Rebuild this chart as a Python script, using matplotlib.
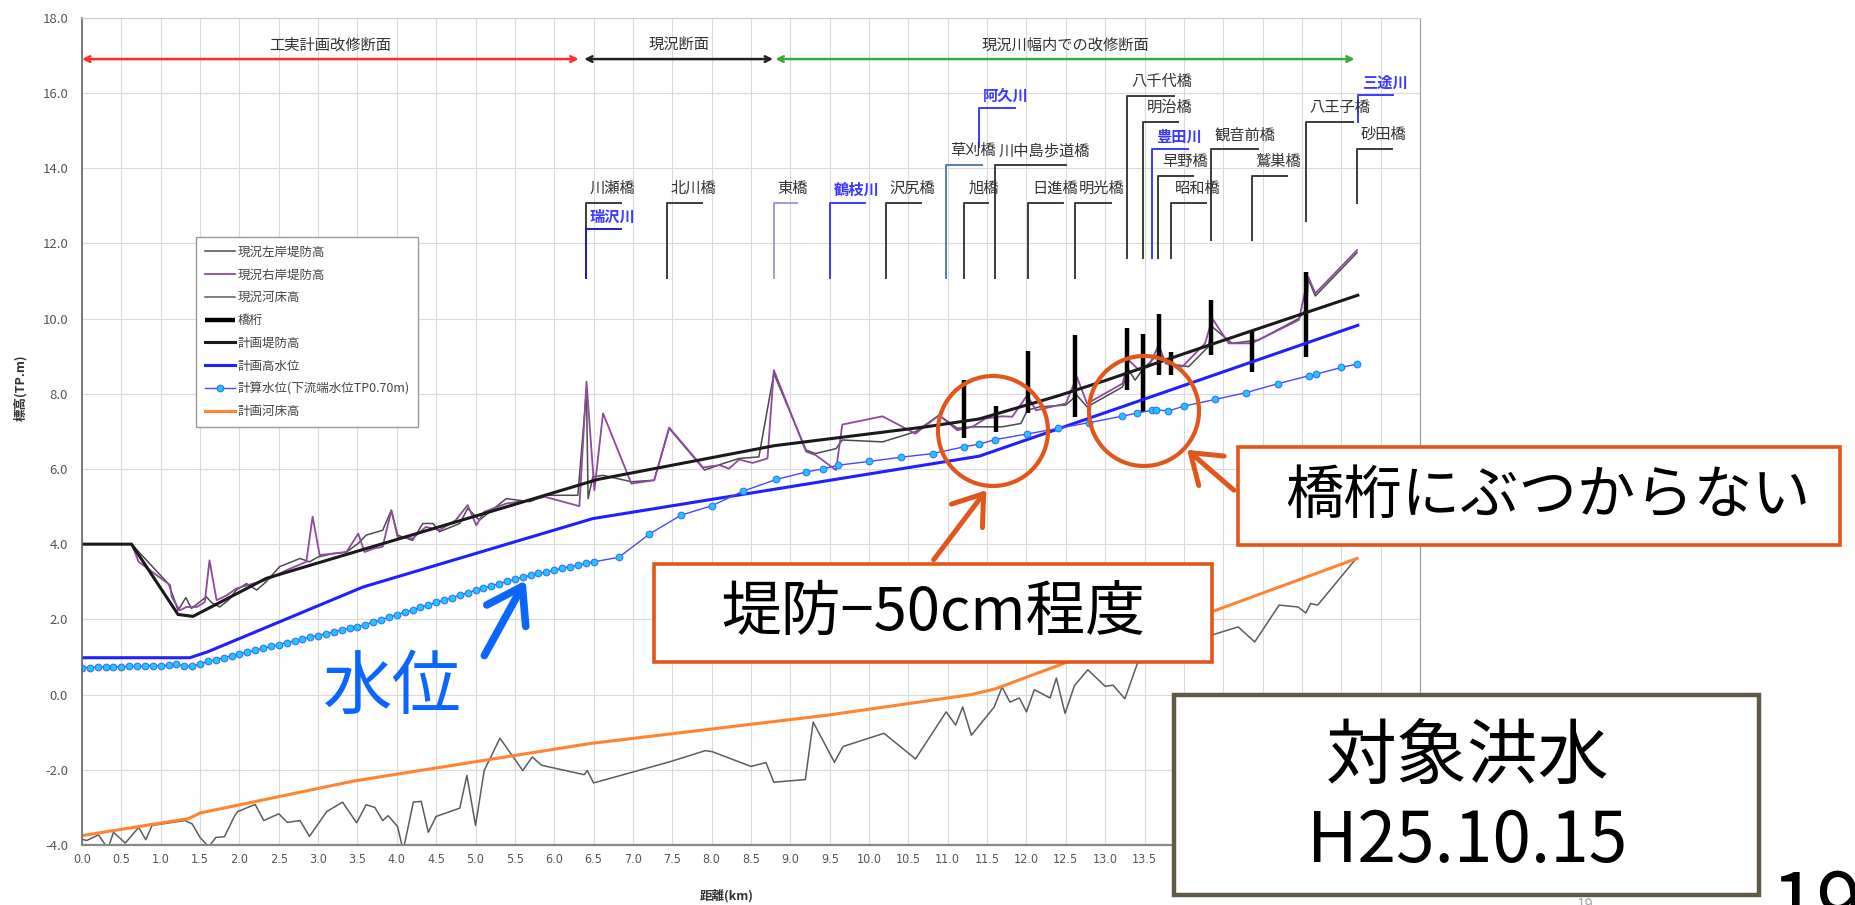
import matplotlib
matplotlib.use("Agg")
import matplotlib.pyplot as plt
from matplotlib.patches import Rectangle, Ellipse, FancyArrowPatch
from matplotlib.transforms import IdentityTransform
from matplotlib.ticker import MultipleLocator, FormatStrFormatter, FuncFormatter

plt.rcParams['font.family'] = ['Noto Sans CJK JP', 'DejaVu Sans']

W, H = 1855, 905

# ---- data (km, TP.m) ----
lb_km = [0.00, 0.63, 1.10, 1.16, 1.22, 1.32, 1.39, 1.58, 1.65, 1.75, 1.86, 1.96, 2.09, 2.22, 2.34,
         2.51, 2.77, 2.89, 3.00, 3.19, 3.36, 3.51, 3.61, 3.82, 3.93, 4.01, 4.20, 4.33, 4.46, 4.54,
         4.80, 4.90, 5.05, 5.39, 5.69, 5.90, 6.30, 6.41, 6.43, 6.49, 6.62, 6.98, 7.27, 7.46, 7.91,
         8.14, 8.35, 8.60, 8.79, 9.20, 9.32, 9.58, 9.66, 10.17, 10.59, 10.89, 11.12, 11.31, 11.69,
         11.93, 12.01, 12.16, 12.50, 12.64, 12.77, 13.22, 13.30, 13.38, 13.47, 13.68, 13.81, 14.06,
         14.31, 14.36, 14.61, 14.95, 15.46, 15.56, 15.58, 15.67, 16.20]
lb_z = [4.00, 4.00, 2.94, 2.60, 2.24, 2.58, 2.29, 2.60, 2.44, 2.33, 2.51, 2.78, 2.95, 2.78, 3.00,
        3.40, 3.62, 3.53, 3.66, 3.75, 3.79, 4.02, 4.24, 4.37, 4.90, 4.24, 4.10, 4.55, 4.55, 4.33,
        4.55, 4.95, 4.64, 5.21, 5.13, 5.30, 5.30, 8.10, 5.21, 5.79, 5.83, 5.66, 5.70, 7.08, 5.97,
        6.14, 6.28, 6.32, 8.54, 6.50, 6.41, 6.54, 6.77, 6.72, 6.99, 7.43, 7.08, 7.12, 7.12,
        7.21, 7.56, 7.65, 7.70, 7.96, 7.65, 8.18, 8.63, 8.36, 8.63, 9.07, 8.80, 8.72,
        9.25, 9.78, 9.34, 9.43, 10.00, 10.27, 11.05, 10.60, 11.75]

rb_km = [0.00, 0.63, 0.72, 1.12, 1.14, 1.24, 1.33, 1.46, 1.56, 1.62, 1.71, 1.84, 1.96, 2.17, 2.34,
         2.60, 2.85, 2.93, 3.02, 3.36, 3.51, 3.59, 3.70, 3.82, 3.93, 4.01, 4.20, 4.37, 4.54, 4.75,
         4.90, 5.01, 5.11, 5.39, 5.69, 5.88, 6.32, 6.41, 6.51, 6.62, 6.98, 7.27, 7.46, 7.89, 8.10,
         8.22, 8.35, 8.52, 8.71, 8.79, 9.20, 9.32, 9.58, 9.66, 10.17, 10.59, 10.89, 11.12, 11.31,
         11.48, 11.69, 11.82, 12.01, 12.12, 12.50, 12.64, 12.77, 13.22, 13.30, 13.43, 13.55, 13.68,
         13.77, 13.98, 14.27, 14.36, 14.57, 14.86, 15.46, 15.58, 15.67, 16.20]
rb_z = [4.00, 4.00, 3.53, 2.91, 2.60, 2.24, 2.33, 2.33, 2.46, 3.57, 2.51, 2.64, 2.82, 2.95, 3.04,
        3.31, 3.53, 4.73, 3.71, 3.79, 4.28, 3.79, 3.88, 3.93, 4.90, 4.19, 4.15, 4.46, 4.37, 4.64,
        5.04, 4.50, 4.86, 5.08, 5.17, 5.26, 5.01, 8.32, 5.43, 7.48, 5.61, 5.70, 7.10, 6.04, 6.10,
        6.01, 6.25, 6.16, 6.28, 8.63, 6.46, 6.37, 5.97, 7.18, 7.40, 6.94, 7.43, 7.03, 7.12,
        7.34, 7.40, 7.39, 7.96, 7.56, 7.74, 8.45, 7.74, 8.27, 8.89, 8.63, 8.72, 9.29,
        8.80, 8.72, 9.34, 10.00, 9.34, 9.34, 9.96, 11.11, 10.67, 11.82]

bed_km = [0.00, 0.06, 0.21, 0.33, 0.40, 0.55, 0.72, 0.81, 0.89, 1.31, 1.40, 1.50, 1.61, 1.70, 1.81,
          1.94, 1.98, 2.20, 2.31, 2.50, 2.61, 2.77, 2.89, 3.11, 3.31, 3.49, 3.61, 3.72, 3.82, 3.89,
          4.01, 4.08, 4.21, 4.31, 4.40, 4.50, 4.80, 4.89, 5.00, 5.11, 5.31, 5.60, 5.72, 5.84, 6.38,
          6.42, 6.50, 7.48, 7.92, 8.01, 8.50, 8.69, 8.79, 9.19, 9.29, 9.56, 9.67, 10.19, 10.59,
          10.98, 11.10, 11.19, 11.30, 11.59, 11.69, 11.79, 11.91, 12.00, 12.10, 12.30, 12.38, 12.49,
          12.61, 12.78, 13.00, 13.10, 13.25, 13.41, 13.60, 13.90, 14.10, 14.35, 14.69, 14.90, 15.21,
          15.45, 15.55, 15.61, 15.70, 16.19]
bed_z = [-3.85, -3.88, -3.73, -4.10, -3.66, -3.95, -3.53, -3.86, -3.48, -3.35, -3.44, -3.80, -4.05,
         -3.80, -3.78, -3.22, -3.11, -2.92, -3.35, -3.17, -3.40, -3.35, -3.77, -3.11, -2.86, -3.41,
         -2.93, -3.00, -3.35, -3.22, -3.51, -4.15, -2.86, -2.84, -3.66, -3.24, -3.02, -2.15, -3.48,
         -2.02, -1.16, -2.02, -1.66, -1.88, -2.13, -2.02, -2.35, -1.78, -1.49, -1.52, -1.91, -1.81,
         -2.33, -2.26, -0.73, -1.80, -1.38, -1.03, -1.71, -0.46, -0.81, -0.33, -1.08, -0.33, 0.20,
         -0.20, -0.09, -0.46, 0.13, -0.09, 0.44, -0.50, 0.24, 0.66, 0.22, 0.25, -0.11, 0.83, 1.20,
         1.00, 1.40, 1.58, 1.80, 1.40, 2.38, 2.33, 2.17, 2.42, 2.38, 3.62]

girder_km = [11.21, 11.61, 12.02, 12.62, 13.28, 13.48, 13.68, 13.83, 14.34, 14.86, 15.55]
girder_top = [8.36, 7.67, 9.15, 9.56, 9.74, 9.60, 10.13, 9.12, 10.49, 9.69, 11.24]
girder_bottom = [6.81, 6.99, 7.50, 7.39, 8.10, 7.52, 8.49, 8.49, 9.03, 8.58, 8.98]

levee_km = [0.00, 0.63, 1.22, 1.41, 2.34, 4.04, 5.47, 6.55, 8.80, 10.72, 11.40, 12.41, 13.00, 14.36, 16.21]
levee_z = [4.00, 4.00, 2.13, 2.08, 3.09, 4.15, 5.04, 5.72, 6.62, 7.12, 7.33, 7.95, 8.35, 9.32, 10.62]

hwl_km = [0.00, 1.37, 1.60, 3.57, 6.49, 11.40, 16.21]
hwl_z = [0.98, 0.98, 1.14, 2.86, 4.68, 6.34, 9.82]

wl_km = [0.0, 0.1, 0.2, 0.3, 0.4, 0.5, 0.6, 0.7, 0.8, 0.9, 1.0, 1.1, 1.2, 1.3, 1.4, 1.5, 1.6, 1.7,
         1.8, 1.9, 2.0, 2.1, 2.2, 2.3, 2.4, 2.5, 2.6, 2.7, 2.8, 2.9, 3.0, 3.1, 3.2, 3.3, 3.4, 3.5,
         3.6, 3.7, 3.8, 3.9, 4.0, 4.1, 4.2, 4.3, 4.4, 4.5, 4.6, 4.7, 4.8, 4.9, 5.0, 5.1, 5.2, 5.3,
         5.4, 5.5, 5.6, 5.7, 5.8, 5.9, 6.0, 6.1, 6.2, 6.3, 6.4, 6.5,
         6.82, 7.21, 7.61, 8.00, 8.40, 8.82, 9.20, 9.41, 9.61, 10.00, 10.40, 10.81, 11.21, 11.40,
         11.60, 12.01, 12.40, 12.79, 13.21, 13.41, 13.60, 13.64, 13.80, 14.00, 14.40, 14.79, 15.20,
         15.59, 15.68, 16.00, 16.20]
wl_z = [0.72, 0.72, 0.73, 0.73, 0.74, 0.74, 0.75, 0.75, 0.76, 0.77, 0.77, 0.78, 0.80, 0.76, 0.75,
        0.82, 0.88, 0.93, 0.98, 1.03, 1.08, 1.13, 1.18, 1.23, 1.28, 1.33, 1.38, 1.43, 1.48, 1.53,
        1.57, 1.62, 1.67, 1.72, 1.77, 1.81, 1.86, 1.93, 1.99, 2.06, 2.12, 2.19, 2.25, 2.32, 2.38,
        2.45, 2.51, 2.58, 2.64, 2.71, 2.77, 2.83, 2.89, 2.95, 3.01, 3.07, 3.12, 3.17, 3.22, 3.26,
        3.30, 3.36, 3.40, 3.44, 3.49, 3.53,
        3.65, 4.27, 4.77, 5.02, 5.41, 5.72, 5.92, 6.00, 6.10, 6.20, 6.31, 6.41, 6.59, 6.66,
        6.78, 6.93, 7.08, 7.23, 7.40, 7.49, 7.56, 7.58, 7.54, 7.67, 7.85, 8.03, 8.27,
        8.48, 8.52, 8.70, 8.79]

bedplan_km = [0.00, 1.35, 1.50, 3.45, 6.46, 9.46, 11.30, 11.60, 12.50, 14.35, 16.20]
bedplan_z = [-3.75, -3.30, -3.15, -2.30, -1.30, -0.55, 0.00, 0.15, 0.85, 2.20, 3.62]

section_names = ['工実計画改修断面', '現況断面', '現況川幅内での改修断面']
section_start = [0.00, 6.38, 8.81]
section_end = [6.31, 8.78, 16.17]

bridge_names = ['川瀬橋', '北川橋', '東橋', '沢尻橋', '草刈橋', '旭橋', '川中島歩道橋', '日進橋', '明光橋',
                '八千代橋', '明治橋', '早野橋', '昭和橋', '観音前橋', '鷲巣橋', '八王子橋', '砂田橋']
bridge_km = [6.40, 7.43, 8.79, 10.21, 10.98, 11.21, 11.60, 12.02, 12.62,
             13.28, 13.48, 13.67, 13.83, 14.34, 14.86, 15.55, 16.20]
bridge_base = [11.07, 11.07, 11.07, 11.07, 11.07, 11.07, 11.07, 11.07, 11.07,
               11.60, 11.60, 11.60, 11.60, 12.09, 12.09, 12.59, 13.08]
bridge_top = [13.08, 13.08, 13.08, 13.08, 14.08, 13.08, 14.08, 13.08, 13.08,
              15.92, 15.22, 13.79, 13.08, 14.50, 13.79, 15.22, 14.50]

river_names = ['瑞沢川', '鶴枝川', '阿久川', '豊田川', '三途川']
river_km = [6.40, 9.50, 11.40, 13.60, 16.21]
river_base = [11.07, 11.07, 14.57, 11.60, 15.22]
river_top = [12.38, 13.08, 15.59, 14.50, 15.94]

# ---- figure ----
fig = plt.figure(figsize=(W / 100, H / 100), dpi=100)
ax = fig.add_axes([82 / W, 1 - 845 / H, (1420 - 82) / W, (845 - 17.7) / H])

ax.plot(lb_km, lb_z, color='#4a4a4a', lw=1.1, label='現況左岸堤防高')
ax.plot(rb_km, rb_z, color='#8e4a9e', lw=1.3, label='現況右岸堤防高')
ax.plot(bed_km, bed_z, color='#5c5c5c', lw=1.1, label='現況河床高')
ax.vlines(girder_km, girder_bottom, girder_top, color='black', lw=3.2, label='橋桁')
ax.plot(levee_km, levee_z, color='#1a1a1a', lw=2.2, label='計画堤防高')
ax.plot(hwl_km, hwl_z, color='#2020ff', lw=2.2, label='計画高水位')
ax.plot(wl_km, wl_z, color='#4848ff', lw=1.0, marker='o', ms=4.8,
        mfc='#1ec8ff', mec='#3a70ff', mew=0.8, label='計算水位(下流端水位TP0.70m)')
ax.plot(bedplan_km, bedplan_z, color='#ff8430', lw=2.2, label='計画河床高')

# section arrows at the top
sec_colors = ['#ff2a2a', '#222222', '#3aa83a']
for name, s, e, c in zip(section_names, section_start, section_end, sec_colors):
    ax.annotate('', xy=(s, 16.9), xytext=(e, 16.9),
                arrowprops=dict(arrowstyle='<->', color=c, lw=1.8, shrinkA=0, shrinkB=0))
    ax.text((s + e) / 2, 17.28, name, ha='center', va='center', fontsize=11, color='#333333')

# bridge leader lines
leader_colors = {'東橋': '#9aa0d8', '草刈橋': '#5a7aa8'}
for name, km, b, t in zip(bridge_names, bridge_km, bridge_base, bridge_top):
    ln = 0.15 * len(name)
    ax.plot([km, km, km + ln], [b, t, t], color=leader_colors.get(name, '#3c3c3c'), lw=1.4)
    ax.text(km + 0.05, t + 0.16, name, ha='left', va='bottom', fontsize=11, color='#333333')

for name, km, b, t in zip(river_names, river_km, river_base, river_top):
    c = '#2020b0' if name == '瑞沢川' else '#3a3aff'
    ax.plot([km, km, km + 0.45], [b, t, t], color=c, lw=1.4)
    ax.text(km + 0.05, t + 0.12, name, ha='left', va='bottom', fontsize=11,
            color='#3a3aff', fontweight='bold')

ax.set_xlim(0, 17.0)
ax.set_ylim(-4, 18)
ax.xaxis.set_major_locator(MultipleLocator(0.5))
ax.yaxis.set_major_locator(MultipleLocator(2))
# labels past 13.5 km sit under the slide's caption box
ax.xaxis.set_major_formatter(FuncFormatter(lambda v, p: '%.1f' % v if v < 13.75 else ''))
ax.yaxis.set_major_formatter(FormatStrFormatter('%.1f'))
ax.grid(True, color='#dadada', lw=0.8)
ax.set_axisbelow(True)
ax.tick_params(axis='y', length=0, pad=10, labelsize=9.5, labelcolor='#555555')
ax.tick_params(axis='x', length=0, pad=6, labelsize=9, labelcolor='#555555')
for lab in ax.get_xticklabels():
    lab.set_family('DejaVu Sans')
    lab.set_stretch('condensed')
ax.spines['left'].set_color('#666666')
ax.spines['left'].set_linewidth(1.2)
ax.spines['bottom'].set_color('#888888')
ax.spines['bottom'].set_linewidth(1.6)
ax.spines['right'].set_color('#999999')
ax.spines['top'].set_color('#cccccc')

leg = ax.legend(loc='upper left', bbox_to_anchor=(196 / W, 1 - 237 / H),
                bbox_transform=fig.transFigure, borderaxespad=0, fontsize=9,
                handlelength=2.4, handletextpad=0.2, labelspacing=0.78, borderpad=0.7,
                fancybox=False, framealpha=1, edgecolor='#999999')
for t in leg.get_texts():
    t.set_color('#444444')

fig.text(21 / W, 1 - 388 / H, '標高(TP.m)', rotation=90, ha='center', va='center',
         fontsize=9, fontweight='bold', color='#333333')
fig.text(727 / W, 1 - 896 / H, '距離(km)', ha='center', va='center',
         fontsize=9, fontweight='bold', color='#333333')

# ---- slide overlays (pixel coordinates, top-left origin) ----
px = IdentityTransform()
orange = '#e0561b'


def box(x0, y0, x1, y1, ec, lw):
    fig.add_artist(Rectangle((x0, H - y1), x1 - x0, y1 - y0, transform=px,
                             facecolor='white', edgecolor=ec, lw=lw, zorder=3))


def arrow(x0, y0, x1, y1, c, lw, hl, hw):
    fig.add_artist(FancyArrowPatch((x0, H - y0), (x1, H - y1), transform=px,
                                   arrowstyle='->, head_length=%s, head_width=%s' % (hl, hw),
                                   mutation_scale=20, color=c, lw=lw, zorder=4))


for cx, cy in [(993, 431), (1144, 411)]:
    fig.add_artist(Ellipse((cx, H - cy), 110, 110, transform=px, fill=False,
                           edgecolor=orange, lw=3, zorder=3))

arrow(932, 562, 988, 488, orange, 3.6, 1.0, 0.7)
arrow(1236, 492, 1185, 448, orange, 3.6, 1.0, 0.7)

box(654, 564, 1212, 662, orange, 2.6)
fig.text(933 / W, 1 - 613 / H, '堤防−50cm程度', ha='center', va='center', fontsize=43,
         color='black', zorder=5)

box(1238, 447, 1840, 545, orange, 2.6)
fig.text(1548 / W, 1 - 497 / H, '橋桁にぶつからない', ha='center', va='center', fontsize=42,
         color='black', zorder=5)

box(1174, 695, 1759, 895, '#5e5a46', 3.2)
fig.text(1467 / W, 1 - 757 / H, '対象洪水', ha='center', va='center', fontsize=51,
         color='black', zorder=5)
fig.text(1467 / W, 1 - 842 / H, 'H25.10.15', ha='center', va='center', fontsize=50,
         color='black', zorder=5)

fig.text(392 / W, 1 - 688 / H, '水位', ha='center', va='center', fontsize=50,
         color='#0a66ff', zorder=5)
arrow(483, 658, 527, 578, '#0a66ff', 5.5, 1.2, 0.8)

fig.text(1585 / W, 1 - 905 / H, '19', ha='center', va='center', fontsize=11, color='#aaaaaa')
fig.text(1771 / W, 1 - 934 / H, '19', ha='left', va='baseline', fontsize=60, color='black')

fig.savefig('out.png', dpi=100)
